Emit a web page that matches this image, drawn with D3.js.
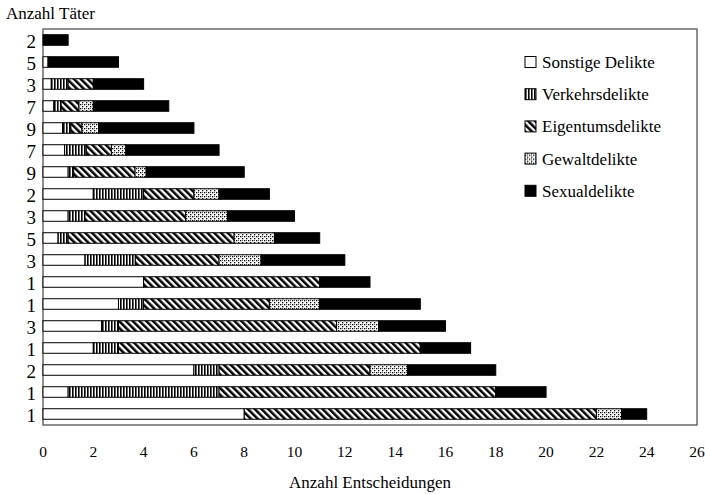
<!DOCTYPE html>
<html>
<head>
<meta charset="utf-8">
<script src="https://cdn.jsdelivr.net/npm/d3@7"></script>
<style>
  body { margin: 0; background: #fff; }
  svg { display: block; font-family: "Liberation Serif", "DejaVu Serif", serif; }
</style>
</head>
<body>
<svg width="705" height="494"></svg>
<script>
// Anzahl Täter per row (top to bottom)
const taeter = [2, 5, 3, 7, 9, 7, 9, 2, 3, 5, 3, 1, 1, 3, 1, 2, 1, 1];

const keys = ['Sonstige Delikte', 'Verkehrsdelikte', 'Eigentumsdelikte', 'Gewaltdelikte', 'Sexualdelikte'];

// segment values per row, same order as taeter
const sonstige  = [0, 0.2, 0.33, 0.43, 0.78, 0.86, 1, 2, 1, 0.6, 1.67, 4, 3, 2.33, 2, 6, 1, 8];
const verkehr   = [0, 0, 0.67, 0.29, 0.33, 0.86, 0.22, 2, 0.67, 0.4, 2, 0, 1, 0.67, 1, 1, 6, 0];
const eigentum  = [0, 0, 1, 0.71, 0.44, 1, 2.44, 2, 4, 6.6, 3.33, 7, 5, 8.67, 12, 6, 11, 14];
const gewalt    = [0, 0, 0, 0.57, 0.67, 0.57, 0.44, 1, 1.67, 1.6, 1.67, 0, 2, 1.67, 0, 1.5, 0, 1];
const sexual    = [1, 2.8, 2, 3, 3.78, 3.71, 3.9, 2, 2.66, 1.8, 3.33, 2, 4, 2.66, 2, 3.5, 2, 1];

const xTicks = d3.range(0, 27, 2);

const rows = taeter.map((t, i) => ({
    i: i,
    'Sonstige Delikte': sonstige[i],
    'Verkehrsdelikte': verkehr[i],
    'Eigentumsdelikte': eigentum[i],
    'Gewaltdelikte': gewalt[i],
    'Sexualdelikte': sexual[i]
}));

const svg = d3.select('svg');
const mLeft = 43, mRight = 697, mTop = 29, mBottom = 425;

const x = d3.scaleLinear().domain([0, 26]).range([mLeft, mRight]);
const y = d3.scaleBand().domain(d3.range(taeter.length)).range([mTop, mBottom]).paddingInner(0.52).paddingOuter(0.26);

// patterns
const defs = svg.append('defs');

const pv = defs.append('pattern').attr('id', 'p-verkehr')
    .attr('patternUnits', 'userSpaceOnUse').attr('width', 3).attr('height', 6);
pv.append('rect').attr('width', 3).attr('height', 6).attr('fill', '#fff');
pv.append('rect').attr('x', 0).attr('width', 1.6).attr('height', 6).attr('fill', '#000');

const pe = defs.append('pattern').attr('id', 'p-eigentum')
    .attr('patternUnits', 'userSpaceOnUse').attr('width', 4.8).attr('height', 10)
    .attr('patternTransform', 'rotate(-45)');
pe.append('rect').attr('width', 4.8).attr('height', 10).attr('fill', '#fff');
pe.append('rect').attr('x', 0).attr('width', 2.5).attr('height', 10).attr('fill', '#000');

const pg = defs.append('pattern').attr('id', 'p-gewalt')
    .attr('patternUnits', 'userSpaceOnUse').attr('width', 4).attr('height', 4);
pg.append('rect').attr('width', 4).attr('height', 4).attr('fill', '#fff');
pg.append('rect').attr('x', 0).attr('y', 0).attr('width', 1.3).attr('height', 1.3).attr('fill', '#000');
pg.append('rect').attr('x', 2).attr('y', 2).attr('width', 1.3).attr('height', 1.3).attr('fill', '#000');
pg.append('rect').attr('x', 2).attr('y', 0).attr('width', 1).attr('height', 1).attr('fill', '#555');

const fills = {
    'Sonstige Delikte': '#fff',
    'Verkehrsdelikte': 'url(#p-verkehr)',
    'Eigentumsdelikte': 'url(#p-eigentum)',
    'Gewaltdelikte': 'url(#p-gewalt)',
    'Sexualdelikte': '#000'
};

// frame
svg.append('rect')
    .attr('x', mLeft).attr('y', mTop)
    .attr('width', mRight - mLeft).attr('height', mBottom - mTop)
    .attr('fill', 'none').attr('stroke', '#444').attr('stroke-width', 1.2);

// bars
const stack = d3.stack().keys(keys)(rows);

svg.append('g')
    .selectAll('g')
    .data(stack)
    .join('g')
    .attr('fill', d => fills[d.key])
    .selectAll('rect')
    .data(d => d.filter(s => s[1] - s[0] > 0))
    .join('rect')
    .attr('x', d => x(d[0]))
    .attr('y', d => y(d.data.i))
    .attr('width', d => x(d[1]) - x(d[0]))
    .attr('height', y.bandwidth())
    .attr('stroke', '#000')
    .attr('stroke-width', 1);

// y axis labels
svg.append('g')
    .selectAll('text')
    .data(taeter)
    .join('text')
    .attr('x', 36)
    .attr('y', (d, i) => y(i) + y.bandwidth() / 2 + 8)
    .attr('text-anchor', 'end')
    .attr('font-size', 19)
    .text(d => d);

// x axis labels
svg.append('g')
    .selectAll('text')
    .data(xTicks)
    .join('text')
    .attr('x', d => x(d))
    .attr('y', 457)
    .attr('text-anchor', 'middle')
    .attr('font-size', 15.5)
    .text(d => d);

svg.append('text')
    .attr('x', 6).attr('y', 19)
    .attr('font-size', 17)
    .text('Anzahl Täter');

svg.append('text')
    .attr('x', 370).attr('y', 488)
    .attr('text-anchor', 'middle')
    .attr('font-size', 17)
    .text('Anzahl Entscheidungen');

// legend
const legend = svg.append('g')
    .selectAll('g')
    .data(keys)
    .join('g')
    .attr('transform', (d, i) => `translate(525,${62 + i * 32.2})`);

legend.append('rect')
    .attr('x', 0).attr('y', -5.5)
    .attr('width', 11).attr('height', 11)
    .attr('fill', d => fills[d])
    .attr('stroke', '#000')
    .attr('stroke-width', 1);

legend.append('text')
    .attr('x', 17).attr('y', 6)
    .attr('font-size', 17)
    .text(d => d);
</script>
</body>
</html>
